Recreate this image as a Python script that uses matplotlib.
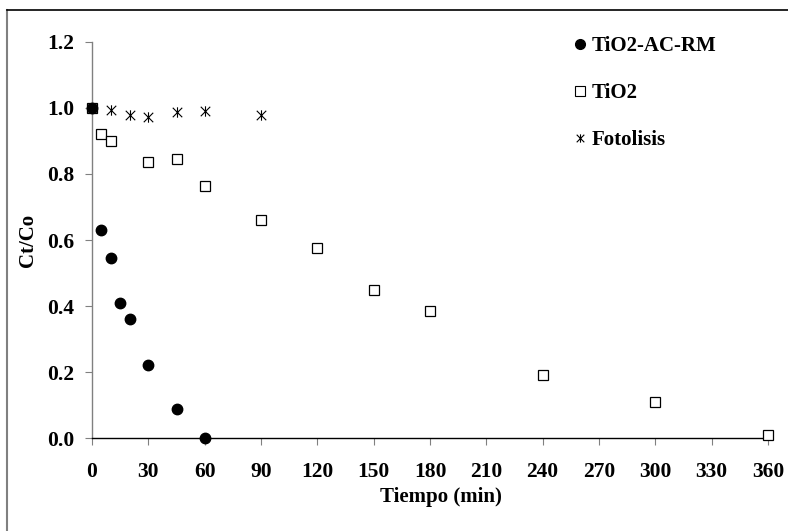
import matplotlib
matplotlib.use("Agg")
import matplotlib.pyplot as plt
from matplotlib.lines import Line2D
from matplotlib.path import Path

# Data
t_acrm = [0, 5, 10, 15, 20, 30, 45, 60]
c_acrm = [1.0, 0.63, 0.545, 0.41, 0.36, 0.22, 0.087, 0.0]

t_tio2 = [0, 5, 10, 30, 45, 60, 90, 120, 150, 180, 240, 300, 360]
c_tio2 = [1.0, 0.92, 0.90, 0.835, 0.845, 0.765, 0.66, 0.575, 0.45, 0.385, 0.19, 0.109, 0.009]

t_foto = [0, 10, 20, 30, 45, 60, 90]
c_foto = [1.0, 0.995, 0.98, 0.972, 0.988, 0.99, 0.978]

x_ticks = list(range(0, 361, 30))
y_ticks = [0.0, 0.2, 0.4, 0.6, 0.8, 1.0, 1.2]

plt.rcParams['font.family'] = ['Liberation Serif', 'DejaVu Serif']
plt.rcParams['font.weight'] = 'bold'

# 'x' with a vertical bar marker
star = Path([(-1, -1), (1, 1), (-1, 1), (1, -1), (0, -1.1), (0, 1.1)],
            [Path.MOVETO, Path.LINETO, Path.MOVETO, Path.LINETO, Path.MOVETO, Path.LINETO])

fig = plt.figure(figsize=(7.88, 5.31), dpi=100)
ax = fig.add_axes([92/788, (531-438)/531, 676/788, 396/531])

ax.plot(t_foto, c_foto, linestyle='none', marker=star, markersize=7.5,
        color='black', markeredgewidth=0.8, label='Fotolisis', zorder=3, clip_on=False)
ax.plot(t_tio2, c_tio2, linestyle='none', marker='s', markersize=7,
        markerfacecolor='white', markeredgecolor='black', markeredgewidth=0.9,
        label='TiO2', zorder=4, clip_on=False)
ax.plot(t_acrm, c_acrm, linestyle='none', marker='o', markersize=7.5,
        color='black', label='TiO2-AC-RM', zorder=5, clip_on=False)

ax.set_xlim(0, 360)
ax.set_ylim(0, 1.2)
ax.set_xticks(x_ticks)
ax.set_yticks(y_ticks)
ax.set_yticklabels([f"{v:.1f}" for v in y_ticks])

for s in ['top', 'right']:
    ax.spines[s].set_visible(False)
ax.spines['left'].set_color('#808080')
ax.spines['bottom'].set_color('black')
ax.spines['left'].set_linewidth(1.0)
ax.spines['bottom'].set_linewidth(1.0)
ax.tick_params(axis='y', direction='out', length=5, color='#808080',
               labelsize=15.5, pad=8)
ax.tick_params(axis='x', direction='out', length=5, color='#808080',
               labelsize=15.5, pad=12)
for lab in ax.get_xticklabels() + ax.get_yticklabels():
    lab.set_fontweight('bold')

ax.set_xlabel('Tiempo (min)', fontsize=15, fontweight='bold')
ax.set_ylabel('Ct/Co', fontsize=15, fontweight='bold')
ax.xaxis.set_label_coords((441-92)/676, -(487-438)/396)
ax.yaxis.set_label_coords(-(92-38)/676, 0.5)

handles = [
    Line2D([], [], linestyle='none', marker='o', markersize=7, color='black'),
    Line2D([], [], linestyle='none', marker='s', markersize=6.5,
           markerfacecolor='white', markeredgecolor='black', markeredgewidth=0.8),
    Line2D([], [], linestyle='none', marker=star, markersize=6,
           color='black', markeredgewidth=0.8),
]
labels = ['TiO2-AC-RM', 'TiO2', 'Fotolisis']
leg = ax.legend(handles, labels, loc='upper left',
                bbox_to_anchor=(574/788, 1 - 36/531), bbox_transform=fig.transFigure,
                frameon=False, handlelength=0.6, handletextpad=0.25,
                labelspacing=1.3, borderaxespad=0, borderpad=0,
                prop={'family': 'Liberation Serif', 'weight': 'bold', 'size': 15})

# figure border (left and top visible)
fig.add_artist(Line2D([7/788, 7/788], [0, 1 - 10/531], transform=fig.transFigure,
                      color='#808080', linewidth=1.5))
fig.add_artist(Line2D([7/788, 1], [1 - 10/531, 1 - 10/531], transform=fig.transFigure,
                      color='black', linewidth=1.2))

fig.savefig('out.png', dpi=100)
